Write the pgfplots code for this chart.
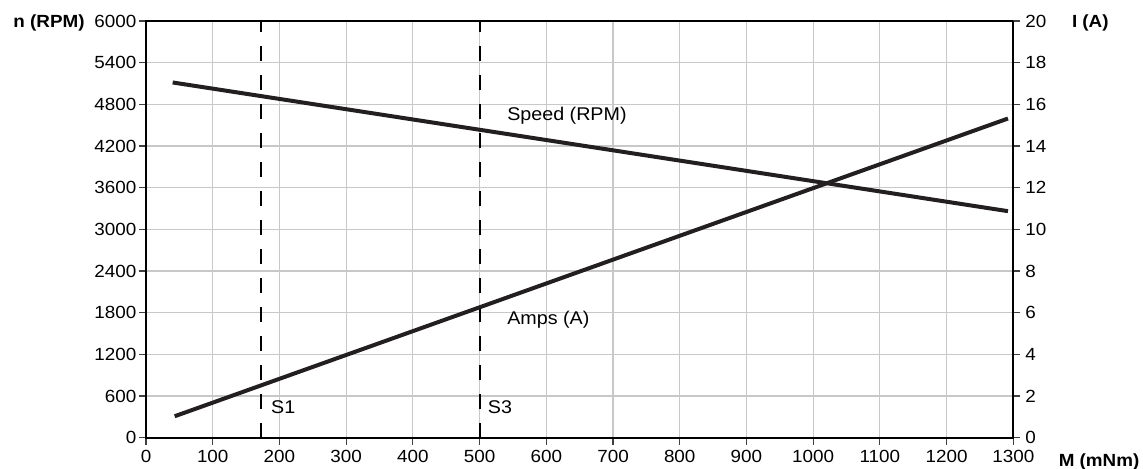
\documentclass[border=0pt]{standalone}
\usepackage{fontspec}
\setmainfont{Liberation Sans}[FakeStretch=1.07]
\usepackage{pgfplots}
\pgfplotsset{compat=1.18}

\definecolor{curve}{HTML}{231F20}
\definecolor{gridgray}{HTML}{C8C8C8}

\pgfplotsset{
  motor/.style={
    at={(0,0)}, anchor=south west,
    scale only axis, width=433.65pt, height=208.35pt,
    xmin=0, xmax=1300,
    tick align=outside,
    major tick length=3.5pt,
    tick style={black!75, line width=0.6pt},
    axis line style={black, line width=1pt},
    /pgf/number format/assume math mode=true,
    /pgf/number format/1000 sep={},
    ticklabel style={font=\fontsize{8.8}{10}\selectfont, inner sep=0pt},
  },
}
\tikzset{lbl/.style={anchor=west, inner sep=0pt, font=\fontsize{9.2}{11}\selectfont}}

\begin{document}
\fontsize{8.8}{10.5}\selectfont
\begin{tikzpicture}
\useasboundingbox (-73pt,-15.15pt) rectangle (498.5pt,218.85pt);

% speed axis (left)
\begin{axis}[
  motor,
  ymin=0, ymax=6000,
  xtick={0,100,...,1300},
  ytick={0,600,...,6000},
  xtick pos=lower, ytick pos=left,
  xticklabel shift=2.65pt,
  yticklabel shift=1.15pt,
  grid=major,
  major grid style={gridgray, line width=0.6pt},
]
\addplot[black, line width=1pt, dash pattern=on 7.5pt off 7pt]
  coordinates {(172,0) (172,6000)};
\addplot[black, line width=1pt, dash pattern=on 7.5pt off 7pt]
  coordinates {(500,0) (500,6000)};
\addplot[curve, line width=2pt] coordinates {(40,5115) (1292,3262)};

\node[lbl] at (axis cs:541,4643) {Speed (RPM)};
\node[lbl] at (axis cs:541,1693) {Amps (A)};
\node[lbl] at (axis cs:187,442) {S1};
\node[lbl] at (axis cs:512,442) {S3};
\end{axis}

% current axis (right)
\begin{axis}[
  motor,
  ymin=0, ymax=20,
  ytick={0,2,...,20},
  axis y line*=right,
  axis x line=none,
  yticklabel shift=2.35pt,
]
\addplot[curve, line width=2pt] coordinates {(43,1.03) (1292,15.32)};
\end{axis}

\node[anchor=base east, inner sep=0pt, font=\bfseries] at (-30.5pt,205.2pt) {n (RPM)};
\node[anchor=base west, inner sep=0pt, font=\bfseries] at (462.8pt,205.2pt) {I (A)};
\node[anchor=base west, inner sep=0pt, font=\bfseries] at (456.2pt,-14.4pt) {M (mNm)};
\end{tikzpicture}
\end{document}
